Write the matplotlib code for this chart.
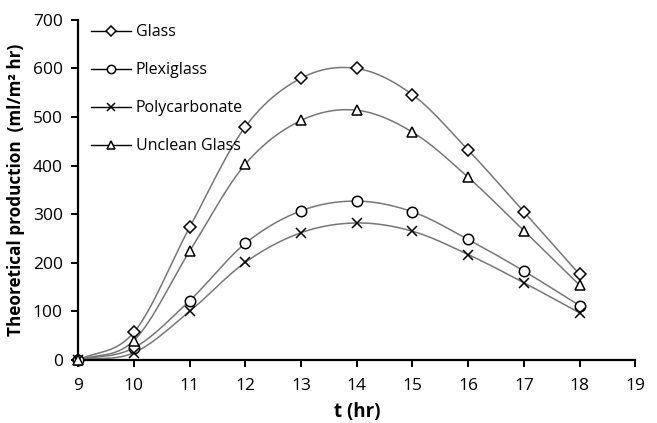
import numpy as np
import matplotlib
matplotlib.use("Agg")
import matplotlib.pyplot as plt
from matplotlib.lines import Line2D

t = [9, 10, 11, 12, 13, 14, 15, 16, 17, 18]
glass = [0, 57, 273, 480, 580, 600, 546, 432, 305, 176]
plexiglass = [0, 25, 122, 240, 307, 327, 305, 248, 183, 112]
polycarbonate = [0, 15, 100, 201, 262, 282, 265, 217, 159, 97]
unclean_glass = [0, 40, 224, 403, 493, 514, 469, 376, 266, 154]

series = [
    ("Glass", glass, "D", 6.5),
    ("Plexiglass", plexiglass, "o", 7.5),
    ("Polycarbonate", polycarbonate, "x", 7.5),
    ("Unclean Glass", unclean_glass, "^", 7.5),
]

plt.rcParams['font.family'] = ['Open Sans', 'DejaVu Sans']


def smooth(x, y, n=30):
    x = np.asarray(x, float)
    y = np.asarray(y, float)
    px = np.concatenate([[2 * x[0] - x[1]], x, [2 * x[-1] - x[-2]]])
    py = np.concatenate([[2 * y[0] - y[1]], y, [2 * y[-1] - y[-2]]])
    xs, ys = [], []
    for i in range(1, len(px) - 2):
        s = np.linspace(0, 1, n, endpoint=False)
        p0, p1, p2, p3 = (np.array([px[j], py[j]]) for j in range(i - 1, i + 3))
        b1 = p1 + (p2 - p0) / 6
        b2 = p2 - (p3 - p1) / 6
        pts = ((1 - s) ** 3)[:, None] * p1 + (3 * (1 - s) ** 2 * s)[:, None] * b1 \
            + (3 * (1 - s) * s ** 2)[:, None] * b2 + (s ** 3)[:, None] * p2
        xs.append(pts[:, 0]); ys.append(pts[:, 1])
    xs.append([x[-1]]); ys.append([y[-1]])
    return np.concatenate(xs), np.concatenate(ys)


fig = plt.figure(figsize=(6.57, 4.23), dpi=100)
ax = fig.add_axes([0.119, 0.149, 0.848, 0.804])

handles = []
for name, vals, mk, ms in series:
    sx, sy = smooth(t, vals)
    ax.plot(sx, sy, color="#777777", lw=1.1, zorder=2)
    ax.plot(t, vals, linestyle="none", marker=mk, markersize=ms,
            markerfacecolor="white" if mk != "x" else "black",
            markeredgecolor="black", markeredgewidth=1.1, zorder=3, clip_on=False)
    handles.append(Line2D([0], [0], color="black", lw=1.0, marker=mk, markersize=ms * 0.8,
                          markerfacecolor="white", markeredgecolor="black",
                          markeredgewidth=1.1))

ax.set_xlim(9, 19)
ax.set_ylim(0, 700)
ax.set_xticks(range(9, 20))
ax.set_yticks(range(0, 701, 100))
for s in ["top", "right"]:
    ax.spines[s].set_visible(False)
for s in ["left", "bottom"]:
    ax.spines[s].set_linewidth(1.6)
ax.tick_params(axis="both", direction="out", length=5, width=1.4, labelsize=12.5)
ax.tick_params(axis="x", pad=8)
ax.tick_params(axis="y", pad=6)
ax.set_xlabel("t (hr)", fontsize=13.5, fontweight="bold", labelpad=6)
ax.set_ylabel("Theoretical production  (ml/m² hr)", fontsize=12.3, fontweight="bold", labelpad=6)

ax.legend(handles, [s[0] for s in series], loc="upper left", frameon=False,
          fontsize=11.5, handlelength=2.5, handletextpad=0.3, labelspacing=1.38,
          bbox_to_anchor=(0.0, 1.025), borderaxespad=0.4)

fig.savefig("out.png", dpi=100)
